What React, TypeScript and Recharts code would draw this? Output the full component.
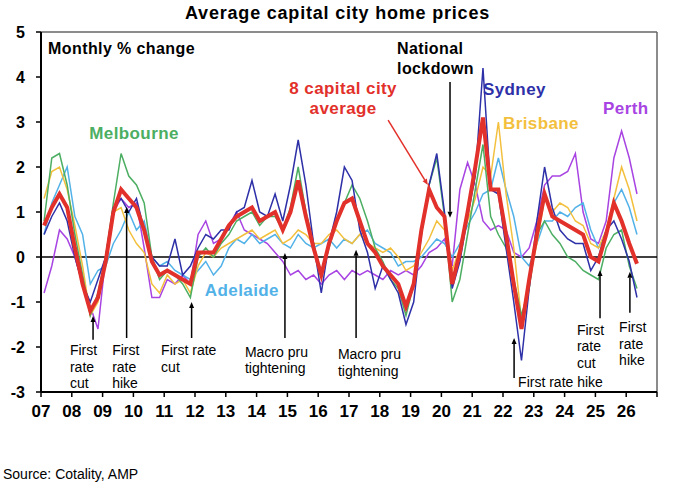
import React from "react";
import { LineChart, Line, XAxis, YAxis, ReferenceLine, ReferenceDot } from "recharts";

// quarterly readings, first point ~Feb 2007
const START = 2007.1;
const STEP = 0.25;

const avg8 = [
  0.7, 1.1, 1.4, 1.1, 0.2, -0.6, -1.2, -0.9, -0.1, 1.0, 1.5, 1.3, 1.1, 0.6, -0.1, -0.4,
  -0.3, -0.4, -0.5, -0.6, 0.1, 0.1, 0.1, 0.4, 0.7, 0.9, 1.0, 1.1, 0.8, 0.9, 1.0, 0.6,
  1.0, 1.7, 0.9, 0.2, -0.4, 0.3, 0.8, 1.2, 1.3, 0.8, 0.3, 0.1, -0.2, -0.4, -0.6, -1.1,
  -0.6, 0.6, 1.5, 1.1, 0.9, -0.6, 0.1, 1.0, 2.0, 3.1, 1.5, 1.5, 0.5, -0.6, -1.6, -0.5,
  0.5, 1.4, 0.9, 0.8, 0.7, 0.6, 0.5, 0.0, -0.1, 0.5, 1.2, 0.8, 0.3, -0.15,
];
const sydney = [
  0.5, 0.9, 1.2, 0.8, 0.0, -0.6, -1.0, -0.5, 0.0, 1.1, 1.3, 1.0, 1.3, 0.6, 0.0, -0.2,
  -0.2, 0.4, -0.4, -0.2, 0.2, 0.5, 0.4, 0.6, 0.6, 1.0, 1.1, 1.7, 1.0, 0.9, 1.4, 0.8,
  1.6, 2.6, 1.6, 0.3, -0.8, 0.3, 1.0, 2.0, 1.7, 0.6, 0.1, -0.7, -0.2, -0.5, -0.8, -1.5,
  -1.0, 0.5, 1.6, 2.3, 1.0, -0.7, -0.1, 0.9, 1.8, 4.2, 1.5, 1.4, 0.2, -1.0, -2.3, -0.7,
  0.8, 2.0, 1.1, 0.6, 0.4, 0.3, 0.3, -0.3, 0.0, 0.6, 0.8, 0.4, -0.1, -0.9,
];
const melbourne = [
  0.8, 2.2, 2.3, 1.6, 0.5, -0.4, -1.3, -0.8, 0.0, 1.2, 2.3, 1.8, 1.6, 1.2, 0.0, -0.5,
  -0.3, -0.4, -0.6, -0.9, 0.0, 0.2, 0.0, 0.3, 0.5, 0.8, 0.9, 1.0, 0.7, 0.9, 0.9, 0.6,
  1.1, 2.0, 1.0, 0.3, -0.4, 0.2, 0.8, 1.2, 1.6, 1.3, 0.8, 0.2, -0.1, -0.5, -0.7, -1.3,
  -0.6, 0.5, 1.6, 2.2, 0.9, -1.0, -0.5, 0.5, 1.5, 2.5, 0.9, 0.5, 0.2, -0.5, -1.3, -0.7,
  0.5, 0.8, 0.5, 0.3, 0.0, -0.1, -0.3, -0.4, -0.5, 0.2, 0.5, 0.6, -0.2, -0.7,
];
const brisbane = [
  1.3, 1.9, 2.0, 1.5, 0.7, -0.2, -1.3, -1.0, -0.1, 1.0, 1.1, 0.6, 0.3, 0.1, -0.6, -0.8,
  -0.4, -0.6, -0.5, -0.8, -0.2, 0.1, 0.0, 0.2, 0.3, 0.4, 0.5, 0.6, 0.4, 0.5, 0.6, 0.3,
  0.4, 0.6, 0.5, 0.3, 0.3, 0.5, 0.6, 0.4, 0.3, 0.5, 0.3, 0.2, 0.1, 0.2, 0.0, -0.3,
  -0.2, 0.1, 0.4, 0.8, 0.6, -0.3, 0.2, 0.8, 1.3, 2.0, 1.8, 3.0, 1.4, 0.2, -1.4, -0.5,
  0.3, 1.3, 1.0, 1.2, 1.1, 0.8, 0.7, 0.3, 0.2, 0.6, 1.3, 2.0, 1.5, 0.8,
];
const adelaide = [
  0.5, 1.2, 1.6, 2.0, 0.9, 0.5, -0.6, -0.3, -0.2, 0.3, 0.6, 1.0, 0.6, 0.8, 0.0, -0.2,
  -0.1, -0.3, -0.4, -0.5, -0.3, -0.1, -0.4, -0.2, 0.2, 0.4, 0.3, 0.5, 0.3, 0.4, 0.5, 0.3,
  0.2, 0.5, 0.3, 0.2, 0.3, 0.4, 0.2, 0.4, 0.3, 0.5, 0.6, 0.3, 0.2, 0.1, -0.2, -0.1,
  -0.1, 0.0, 0.2, 0.4, 0.3, 0.0, 0.3, 0.7, 1.0, 1.4, 1.5, 2.2, 1.5, 0.9, 0.0, -0.2,
  0.3, 0.8, 0.8, 1.0, 0.9, 1.1, 1.2, 0.6, 0.2, 0.5, 1.2, 1.5, 1.1, 0.5,
];
const perth = [
  -0.8, -0.2, 0.6, 0.4, 0.0, -0.6, -1.1, -1.6, 0.0, 1.0, 1.3, 1.1, 1.2, 0.2, -0.9, -0.9,
  -0.5, -0.6, -0.4, -0.6, 0.5, 0.8, 0.3, 0.4, 0.7, 1.0, 0.6, 0.5, 0.4, 0.3, 0.1, -0.1,
  -0.4, -0.3, -0.5, -0.4, -0.6, -0.4, -0.3, -0.5, -0.3, -0.4, -0.3, -0.4, -0.5, -0.3, -0.4, -0.3,
  -0.4, -0.2, 0.1, 0.2, 0.4, -0.2, 1.5, 2.1, 1.6, 0.8, 0.6, 0.7, 0.6, 0.1, 0.0, 0.2,
  0.8, 1.6, 1.8, 1.8, 1.9, 2.3, 1.0, 0.4, 0.3, 0.8, 2.2, 2.8, 2.2, 1.4,
];

const years = [
  2007, 2008, 2009, 2010, 2011, 2012, 2013, 2014, 2015, 2016, 2017,
  2018, 2019, 2020, 2021, 2022, 2023, 2024, 2025, 2026, 2027,
];
const yearLabels = [
  "07", "08", "09", "10", "11", "12", "13", "14", "15", "16", "17",
  "18", "19", "20", "21", "22", "23", "24", "25", "26", "",
];
const yTicks = [-3, -2, -1, 0, 1, 2, 3, 4, 5];

const data = avg8.map((v, i) => ({
  t: START + i * STEP,
  avg: v,
  syd: sydney[i],
  mel: melbourne[i],
  bne: brisbane[i],
  adl: adelaide[i],
  per: perth[i],
}));

const series = [
  { key: "per", color: "#a844e2", width: 1.5 },
  { key: "adl", color: "#52b2e8", width: 1.5 },
  { key: "bne", color: "#f3c03e", width: 1.5 },
  { key: "mel", color: "#4cae62", width: 1.5 },
  { key: "syd", color: "#2e30a8", width: 1.5 },
  { key: "avg", color: "#e2302a", width: 4 },
];

// chart annotations, placed in data units
const labels = [
  { x: 2007.23, y: 4.64, lines: ["Monthly % change"], color: "#000", bold: true, size: 16, anchor: "start" },
  { x: 2010.02, y: 2.76, lines: ["Melbourne"], color: "#4cae62", bold: true, size: 17, anchor: "middle" },
  { x: 2016.81, y: 3.76, lines: ["8 capital city", "average"], color: "#e2302a", bold: true, size: 17, anchor: "middle" },
  { x: 2018.56, y: 4.64, lines: ["National", "lockdown"], color: "#000", bold: true, size: 16, anchor: "start" },
  { x: 2021.35, y: 3.73, lines: ["Sydney"], color: "#2e30a8", bold: true, size: 17, anchor: "start" },
  { x: 2022.0, y: 2.98, lines: ["Brisbane"], color: "#f3c03e", bold: true, size: 17, anchor: "start" },
  { x: 2025.25, y: 3.31, lines: ["Perth"], color: "#a844e2", bold: true, size: 17, anchor: "start" },
  { x: 2012.32, y: -0.73, lines: ["Adelaide"], color: "#52b2e8", bold: true, size: 17, anchor: "start" },
  { x: 2007.94, y: -2.07, lines: ["First", "rate", "cut"], color: "#000", bold: false, size: 14, anchor: "start" },
  { x: 2009.31, y: -2.07, lines: ["First", "rate", "hike"], color: "#000", bold: false, size: 14, anchor: "start" },
  { x: 2010.9, y: -2.07, lines: ["First rate", "cut"], color: "#000", bold: false, size: 14, anchor: "start" },
  { x: 2013.62, y: -2.11, lines: ["Macro pru", "tightening"], color: "#000", bold: false, size: 14, anchor: "start" },
  { x: 2016.64, y: -2.16, lines: ["Macro pru", "tightening"], color: "#000", bold: false, size: 14, anchor: "start" },
  { x: 2022.49, y: -2.78, lines: ["First rate hike"], color: "#000", bold: false, size: 14, anchor: "start" },
  { x: 2024.4, y: -1.62, lines: ["First", "rate", "cut"], color: "#000", bold: false, size: 14, anchor: "start" },
  { x: 2025.77, y: -1.56, lines: ["First", "rate", "hike"], color: "#000", bold: false, size: 14, anchor: "start" },
];

const arrows = [
  { from: [2008.69, -1.84], to: [2008.69, -1.31], color: "#000" },
  { from: [2009.78, -1.8], to: [2009.78, 1.11], color: "#000" },
  { from: [2011.89, -1.8], to: [2011.89, -1.0], color: "#000" },
  { from: [2014.92, -1.8], to: [2014.92, 0.09], color: "#000" },
  { from: [2017.23, -1.8], to: [2017.23, 0.16], color: "#000" },
  { from: [2022.36, -2.69], to: [2022.36, -1.8], color: "#000" },
  { from: [2025.15, -1.36], to: [2025.15, -0.29], color: "#000" },
  { from: [2026.12, -1.24], to: [2026.12, -0.33], color: "#000" },
  { from: [2020.28, 3.89], to: [2020.28, 0.87], color: "#000" },
  { from: [2018.27, 3.04], to: [2019.56, 1.6], color: "#e2302a" },
];

const arrowShape = (color: string) => (p: any) => {
  const { x1, y1, x2, y2 } = p;
  const dx = x2 - x1;
  const dy = y2 - y1;
  const len = Math.hypot(dx, dy) || 1;
  const ux = dx / len;
  const uy = dy / len;
  const bx = x2 - ux * 6;
  const by = y2 - uy * 6;
  const pts = `${x2},${y2} ${bx - uy * 2.5},${by + ux * 2.5} ${bx + uy * 2.5},${by - ux * 2.5}`;
  return (
    <g>
      <line x1={x1} y1={y1} x2={bx} y2={by} stroke={color} strokeWidth={1.5} />
      <polygon points={pts} fill={color} />
    </g>
  );
};

const textShape = (l: any) => (p: any) => (
  <text
    x={p.cx}
    y={p.cy}
    fill={l.color}
    fontSize={l.size}
    fontWeight={l.bold ? "bold" : "normal"}
    textAnchor={l.anchor}
    dominantBaseline="central"
    letterSpacing={l.bold ? 0.4 : 0}
  >
    {l.lines.map((s: string, i: number) => (
      <tspan key={i} x={p.cx} dy={i === 0 ? 0 : l.bold ? 20 : 16.5}>
        {s}
      </tspan>
    ))}
  </text>
);

export default function App() {
  return (
    <div
      style={{
        position: "absolute",
        left: 0,
        top: 0,
        width: 680,
        height: 486,
        background: "#fff",
        fontFamily: "'Liberation Sans', Arial, sans-serif",
      }}
    >
      <div
        style={{
          position: "absolute",
          top: 3,
          left: 0,
          width: 675,
          textAlign: "center",
          fontWeight: "bold",
          fontSize: 18,
          letterSpacing: 0.8,
          color: "#000",
        }}
      >
        Average capital city home prices
      </div>
      <LineChart width={680} height={486} data={data} margin={{ top: 32, right: 23, bottom: 64, left: 0 }}>
        <XAxis
          dataKey="t"
          type="number"
          domain={[2007, 2027]}
          ticks={years}
          interval={0}
          allowDataOverflow
          tickFormatter={(v: number) => yearLabels[years.indexOf(v)]}
          tick={{ fontSize: 17, fontWeight: "bold", fill: "#000" }}
          tickSize={5}
          tickMargin={8}
          height={30}
          axisLine={{ stroke: "#000", strokeWidth: 2 }}
          tickLine={{ stroke: "#000", strokeWidth: 1.5 }}
        />
        <YAxis
          type="number"
          domain={[-3, 5]}
          ticks={yTicks}
          interval={0}
          allowDataOverflow
          width={41}
          tick={{ fontSize: 16, fontWeight: "bold", fill: "#000" }}
          tickSize={5}
          tickMargin={11}
          axisLine={{ stroke: "#000", strokeWidth: 2 }}
          tickLine={{ stroke: "#000", strokeWidth: 1.5 }}
        />
        <ReferenceLine y={5} stroke="#666" strokeWidth={1.5} />
        <ReferenceLine x={2027} stroke="#666" strokeWidth={1.5} />
        <ReferenceLine y={0} stroke="#000" strokeWidth={1.5} />
        {series.map((s) => (
          <Line
            key={s.key}
            dataKey={s.key}
            type="linear"
            stroke={s.color}
            strokeWidth={s.width}
            dot={false}
            activeDot={false}
            isAnimationActive={false}
          />
        ))}
        {arrows.map((a, i) => (
          <ReferenceLine
            key={"a" + i}
            segment={[
              { x: a.from[0], y: a.from[1] },
              { x: a.to[0], y: a.to[1] },
            ]}
            shape={arrowShape(a.color)}
          />
        ))}
        {labels.map((l, i) => (
          <ReferenceDot key={"l" + i} x={l.x} y={l.y} r={0} shape={textShape(l)} />
        ))}
      </LineChart>
      <div style={{ position: "absolute", left: 3, top: 466, fontSize: 14, color: "#000" }}>
        Source: Cotality, AMP
      </div>
    </div>
  );
}
